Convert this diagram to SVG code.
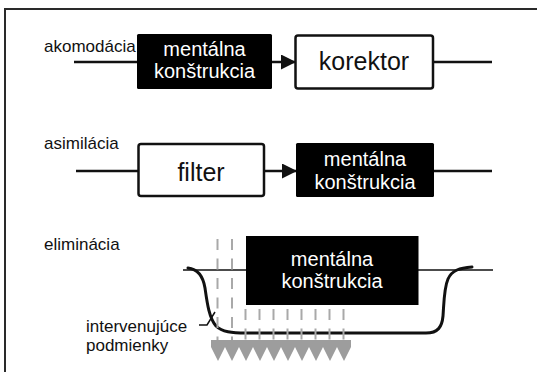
<svg xmlns="http://www.w3.org/2000/svg" width="537" height="372" viewBox="0 0 537 372">
  <defs>
    <style>
      .frame { fill: none; stroke: #2a2a2a; stroke-width: 2; }
      .wire { fill: none; stroke: #111; stroke-width: 2.5; }
      .thin { fill: none; stroke: #111; stroke-width: 1.5; }
      .dark { fill: #000; }
      .light { fill: #fff; stroke: #111; stroke-width: 2.5; }
      .label { font-family: "Liberation Sans", Arial, Helvetica, sans-serif; font-size: 17px; fill: #111; }
      .inv { font-family: "Liberation Sans", Arial, Helvetica, sans-serif; font-size: 20px; fill: #fff; text-anchor: middle; }
      .big { font-family: "Liberation Sans", Arial, Helvetica, sans-serif; font-size: 25px; fill: #111; text-anchor: middle; }
      .dash { fill: none; stroke: #a9a9a9; stroke-width: 2; stroke-dasharray: 11 8.5; }
      .trough { fill: none; stroke: #111; stroke-width: 3; stroke-linecap: round; }
      .teeth { fill: #9d9d9d; }
    </style>
    <marker id="head" viewBox="0 0 15 15" refX="14" refY="7.5" markerWidth="15" markerHeight="15" markerUnits="userSpaceOnUse" orient="auto">
      <path d="M0,0 L15,7.5 L0,15 z" fill="#111"/>
    </marker>
  </defs>

  <rect width="537" height="372" fill="#fff"/>
  <!-- frame: only top and left edges are visible -->
  <path class="frame" d="M5,372 V9 H537"/>

  <!-- row labels -->
  <text class="label" x="44" y="52">akomodácia</text>
  <text class="label" x="44" y="149">asimilácia</text>
  <text class="label" x="44" y="250">eliminácia</text>
  <text class="label" x="86" y="332">intervenujúce</text>
  <text class="label" x="86" y="351">podmienky</text>

  <g id="connectors">
    <!-- row 1 -->
    <path class="wire" d="M74,62 H137"/>
    <path class="wire" d="M272,62 H295" marker-end="url(#head)"/>
    <path class="wire" d="M433,62 H492"/>
    <!-- row 2 -->
    <path class="wire" d="M76,171 H138"/>
    <path class="wire" d="M264,171 H296" marker-end="url(#head)"/>
    <path class="wire" d="M434,171 H492"/>
    <!-- row 3 baseline -->
    <path class="thin" d="M183,270 H493"/>
  </g>

  <!-- row 3: trough, conditions, leader -->
  <g id="trough">
    <path class="trough" d="M188,268 C198,269 203,276 205,288 C207,302 209,318 216,326 C222,332 232,333 246,333 L426,333 C438,333 442,327 443,316 C444,302 444,288 448,279 C452,270 460,268 472,267"/>
  </g>

  <g id="conditions">
    <path class="dash" d="M217.5,239 V341 M232,239 V341"/>
    <path class="dash" d="M245.5,309 V341 M259.5,309 V341 M273.5,309 V341 M287.5,309 V341 M301.5,309 V341 M315.5,309 V341 M329.5,309 V341 M343.5,309 V341"/>
    <polygon class="teeth" points="211,340 351,340 351,347 344,361 337,347 330,361 323,347 316,361 309,347 302,361 295,347 288,361 281,347 274,361 267,347 260,361 253,347 246,361 239,347 232,361 225,347 218,361 211,347"/>
    <path class="thin" d="M199,325 H207 L215,312"/>
  </g>

  <!-- row 1 nodes -->
  <g id="mk1">
    <rect class="dark" x="137" y="34" width="135" height="55" rx="1.5"/>
    <text class="inv" x="204.5" y="56">mentálna</text>
    <text class="inv" x="204.5" y="78">konštrukcia</text>
  </g>
  <g id="korektor">
    <rect class="light" x="295.5" y="35.5" width="137.5" height="53" rx="2.5"/>
    <text class="big" x="364" y="70">korektor</text>
  </g>

  <!-- row 2 nodes -->
  <g id="filter">
    <rect class="light" x="138.5" y="144" width="125.5" height="52" rx="2.5"/>
    <text class="big" x="201" y="181">filter</text>
  </g>
  <g id="mk2">
    <rect class="dark" x="296" y="143" width="138" height="54" rx="1.5"/>
    <text class="inv" x="365" y="166">mentálna</text>
    <text class="inv" x="365" y="188.5">konštrukcia</text>
  </g>

  <!-- row 3 node -->
  <g id="mk3">
    <rect class="dark" x="246" y="236" width="172.5" height="69"/>
    <text class="inv" x="332" y="266">mentálna</text>
    <text class="inv" x="332" y="288">konštrukcia</text>
  </g>
</svg>
